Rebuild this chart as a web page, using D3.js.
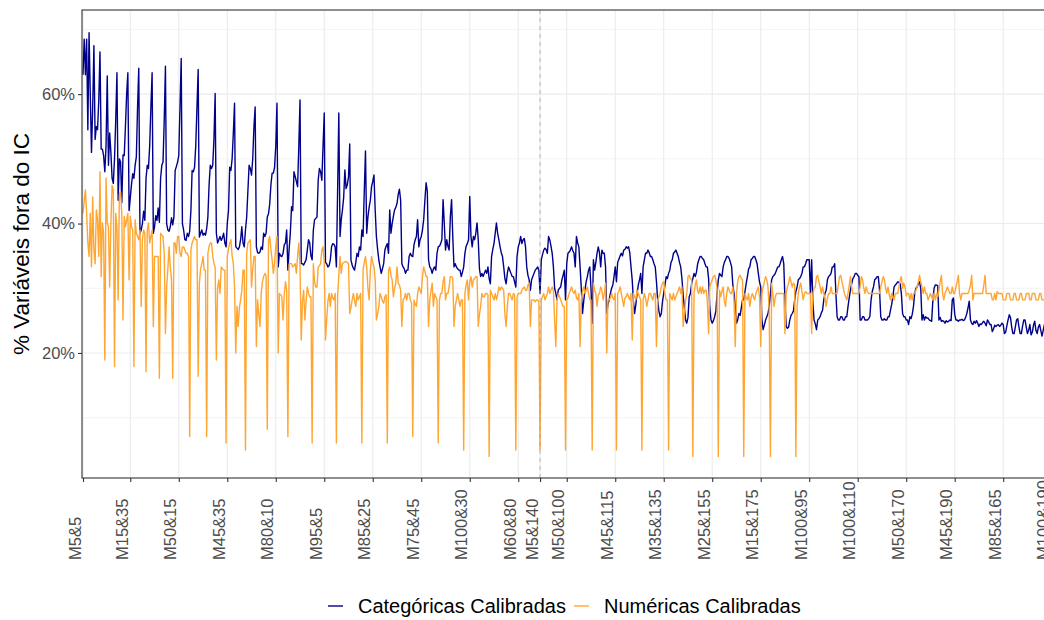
<!DOCTYPE html>
<meta charset="utf-8">
<script src="https://d3js.org/d3.v7.min.js"></script>
<style>
  body { margin: 0; background: #ffffff; }
  text { font-family: "Liberation Sans", Arial, sans-serif; }
</style>
<body>
<div id="my_dataviz"></div>
<script>

// % of variables outside the IC, one value per scenario (800 scenarios)
var categoricas = [
  63, 68.5, 63, 68.5, 54.5, 69.5, 60, 51, 58, 67.5, 53, 55, 54.5, 59, 66.5, 51.5, 51.5, 50.5, 48, 52,
  62.8, 49, 54, 51, 47, 46.2, 50, 56, 63.3, 43.6, 50, 49.5, 43.2, 50.6, 50.5, 55, 60, 63.3, 42, 44,
  46, 47.7, 47, 49, 50.3, 58, 64, 38.5, 39, 40, 41.9, 40.5, 47, 49, 48.5, 52, 58, 63.3, 38.5, 39.5,
  41.2, 40.5, 42.4, 40.2, 47, 49, 49.5, 56, 64.3, 40, 39, 38.8, 39.5, 40.9, 39.8, 41, 48.2, 48.8, 49.5, 50.5,
  58, 65.5, 40, 39, 37.5, 37.4, 38.5, 38, 38.8, 42, 48.2, 48, 48.7, 52, 58, 63.8, 37.9, 38.5, 39, 38.2,
  38.5, 38.2, 39.2, 41, 46, 49, 48.5, 49, 53, 60.1, 38.5, 37, 37.5, 38, 37.4, 37.8, 38.5, 37, 36.4, 40,
  42, 48.7, 48.2, 50, 54, 58.6, 36.4, 36.2, 36, 36.4, 37.5, 39.5, 37, 36.4, 39, 41, 45, 49, 48.5, 47.5,
  50, 55, 58, 36.4, 35.5, 35.4, 35.6, 36.4, 36, 38.5, 38, 38.5, 41, 41.5, 43, 46, 47.8, 47.8, 48.7, 52,
  58.6, 33.3, 35.4, 35, 34.9, 35.4, 36.7, 37, 39, 32.8, 36, 38.5, 42.6, 42, 48, 47.3, 46.5, 45.7, 52, 59.1,
  33.8, 33.8, 33.6, 34, 34.4, 35.9, 37.5, 37, 35, 34.4, 39, 40.6, 40.8, 41, 46.7, 48.5, 48, 46.7, 52, 57.1,
  34, 33.8, 33.3, 33.5, 34.4, 36.4, 36.9, 36.8, 36.4, 33.3, 45, 57.1, 38, 40.6, 42.1, 44, 48.3, 45.4, 46, 47.2,
  52.3, 34.4, 33.6, 33.1, 32.8, 34, 35.4, 34.9, 36.4, 35.9, 39, 38, 45, 51.2, 38.5, 41, 42.5, 43.6, 45.7, 46.5,
  47.5, 42.1, 38, 36, 34.4, 33.3, 32.3, 33, 33.8, 35.9, 36.5, 36.9, 35.4, 42.1, 38.5, 40, 41.1, 42.1, 42.5, 43.1,
  44.5, 45.3, 43.6, 33.8, 33.3, 33, 32.3, 32.8, 32.8, 34.9, 35.4, 35, 34.9, 36.7, 37.5, 38, 40.6, 36.4, 37.5, 38,
  39, 40.6, 43.6, 46.3, 45, 34.4, 33.3, 33, 32.3, 33, 33.3, 32.8, 35.4, 36.4, 36.5, 36.9, 37.5, 43.7, 40, 35.9,
  37.5, 36.5, 35.9, 41.1, 43.7, 38, 33.3, 33.8, 33.3, 33, 32.8, 32.8, 31.8, 32.5, 33.3, 35.4, 36.5, 36.9, 37.5, 44.2,
  38, 36.4, 38, 37.5, 38.5, 40.1, 37.5, 33, 31.8, 32.3, 31.8, 32.3, 32.8, 32.3, 33.3, 31.5, 30.7, 34.9, 36, 36.9,
  38.5, 40.1, 38.5, 37.5, 36.4, 35.5, 34.9, 33.3, 31.5, 30.7, 32.3, 33.3, 32.8, 32.3, 31.8, 31.8, 31, 30.2, 34.9, 36.4,
  37, 38, 36.9, 37.5, 37.7, 36.4, 33.3, 32, 31.3, 29.7, 31.3, 31.8, 32.3, 32.8, 33, 33.3, 32.8, 29.2, 34.4, 35.2,
  35.9, 36.2, 36, 35.4, 38, 37.5, 36.5, 35.4, 33.3, 30, 29.2, 28.2, 29.7, 30, 30.2, 31.3, 32, 32.8, 28.2, 33.8,
  35.4, 35.6, 35.9, 36.4, 35.8, 35.4, 33.3, 38, 37, 36.4, 33.3, 30, 26.1, 28, 29.7, 31, 31.8, 32.8, 33.3, 30,
  24.6, 34.4, 32.8, 34, 35.4, 36.4, 35.5, 33.3, 35.9, 35.4, 35.4, 33.3, 26.1, 27.5, 28.2, 29.2, 30, 30.5, 31.8, 33.3,
  31, 34, 34.5, 35, 35.4, 35, 35.9, 36, 36.4, 36.2, 36.4, 35.5, 33.3, 31.3, 28, 26.1, 27.5, 29.2, 30.5, 31.3,
  32.3, 29.2, 33.3, 34.4, 35.4, 35.4, 35.9, 35.5, 34.9, 34.9, 34.4, 33.8, 33.3, 31, 28.2, 26.5, 25.6, 26.1, 28, 29.2,
  30.5, 31.8, 31.5, 32.3, 32.8, 34, 34.4, 35.4, 35.6, 35.9, 35.4, 34.9, 34, 33.3, 31.5, 29, 27, 25.1, 24.6, 25.5,
  28.7, 29.2, 30.7, 31.5, 32.3, 31.8, 32.5, 33.8, 34.4, 34.9, 34.9, 34.6, 34.4, 33.8, 33.3, 33.3, 31.5, 27, 25.1, 24.6,
  25, 25.6, 26.5, 29.2, 31.3, 32.3, 32, 31.8, 33.3, 34, 34.4, 34.9, 34.9, 34.6, 34, 33.3, 30.5, 29.2, 27.2, 24.6,
  25.1, 26.1, 25.8, 27, 28.2, 28.2, 29.5, 30.7, 31.8, 33, 33.3, 34.4, 34.6, 34.9, 34.9, 34.4, 33.8, 32.3, 31, 30.2,
  25.1, 23.6, 24.3, 25.1, 25.6, 26.1, 27.2, 29.2, 31.3, 31.8, 32, 32.3, 32.8, 33.3, 33.3, 33.8, 34.4, 34.9, 33.8, 28.2,
  24.1, 23.8, 24, 25.1, 25.8, 26.1, 26.5, 28.2, 29.5, 30.2, 31.3, 31.5, 31.8, 32.3, 33.3, 33.3, 33.8, 34.4, 34.4, 34.4,
  29.2, 34.4, 28, 25.1, 24.5, 23.6, 25.1, 25.3, 25.6, 26.2, 26.6, 28.2, 29.2, 29.7, 31.3, 31.8, 32, 32.3, 33.3, 33.3,
  33.8, 29.2, 25.6, 25.1, 25.1, 25.6, 25.6, 25.1, 25.1, 25.6, 25.6, 27.2, 28.5, 29.7, 30.7, 31.5, 31.8, 32.3, 32.3, 32,
  31.8, 25.1, 25.1, 25.6, 25.6, 25.1, 25.1, 25.1, 25.3, 25.6, 28.2, 29.5, 30.2, 31.3, 31.5, 31.8, 31.8, 29.7, 25.6, 25.1,
  25.1, 25.3, 25.1, 25.1, 25.6, 25.6, 26.6, 27.5, 28.7, 30.2, 30.5, 30.7, 31, 30.9, 30.7, 29.2, 26.1, 25.6, 25.6, 25.1,
  25.1, 24.4, 25.6, 25.3, 26, 27.2, 29.2, 30, 30.2, 30.7, 31, 30, 25.1, 25.9, 25.1, 25.6, 25.4, 25.4, 25.1, 25,
  24.9, 28.2, 30, 30.5, 30.5, 30.4, 25.1, 25.5, 24.9, 25, 24.9, 24.6, 25, 24.8, 24.9, 25.1, 25, 28.2, 28.5, 26,
  25.1, 25.1, 24.9, 25.1, 25.1, 25.2, 25, 25.1, 25.5, 26.1, 27, 28, 25.1, 24.6, 24.4, 24.9, 24.6, 25, 24.6, 24.1,
  24.5, 24.4, 24.7, 24.9, 24.6, 24.2, 25.1, 24.8, 24.4, 24.4, 23.3, 23.7, 24.3, 24.1, 24.3, 24.4, 24.1, 24.3, 24.6, 24.4,
  23, 23.2, 24.2, 25.1, 25.9, 25.5, 24, 23, 23, 24, 25.1, 25.3, 24, 23, 23, 24.2, 25.1, 25.1, 24, 23,
  23.5, 24.4, 22.8, 23.2, 24.3, 24.9, 23.5, 23, 24, 24.4, 23.5, 22.6, 23.5, 24.4, 23, 22.6, 23.8, 24.4, 23, 22.8
];

var numericas = [
  41.6, 43.5, 45.2, 41.6, 37, 34.9, 41.6, 33.3, 44.1, 36, 33.8, 42.1, 40.6, 34.9, 48, 31.8, 40.1, 38.5, 18.9, 47,
  40.1, 39.5, 30.2, 40, 45.9, 45.2, 17.9, 41.6, 39.5, 28.2, 44.6, 44.9, 41.6, 25.1, 41.1, 39.5, 40.6, 41.6, 31.3, 41.1,
  39.5, 39, 17.9, 40.6, 38.5, 38, 37.5, 39, 27.2, 37.5, 39, 38.5, 17.1, 39, 40.1, 37, 38, 39, 24.1, 34.9,
  34.9, 34.9, 34.9, 16.1, 38.5, 38.2, 38, 35.4, 23, 30.2, 33, 36.4, 33.3, 31.3, 16.1, 37, 37, 35.4, 38, 38,
  35.4, 34.9, 36.4, 36.4, 35.9, 35.4, 35.4, 34.9, 7.1, 35.9, 37, 37.5, 38, 37.5, 37.5, 16.4, 30.8, 33, 33.8, 34.9,
  32.8, 32.8, 7.1, 35.4, 36.5, 37, 37, 35, 33.8, 33.3, 18.9, 30, 31.3, 29.2, 33.3, 33, 32.8, 32.8, 6.1, 34.9,
  36, 37, 37.5, 35, 33.8, 30.2, 20, 27.2, 24.1, 27, 28.2, 29.7, 32.8, 32.8, 5, 35.4, 37, 37.2, 37.5, 30.2,
  33, 34.9, 34.9, 21, 28.2, 26, 24.1, 29.2, 31, 31.8, 32.3, 32, 8.2, 37.5, 38, 36, 34.4, 32.3, 34, 36.4,
  38, 20, 29.2, 29, 28.7, 25.1, 29, 31, 29.7, 7.1, 33.8, 33.8, 33.8, 33.3, 33.5, 33.8, 32.3, 35, 37, 33.3,
  22, 28, 29.7, 25.1, 28, 30.2, 29.2, 28.7, 28.7, 6.1, 33.8, 31, 30.2, 30.2, 33.3, 33.5, 33.8, 35.9, 36.4, 34,
  22, 25.1, 28, 29.2, 27.2, 29.2, 28.5, 28.2, 29.2, 6.1, 28.7, 32, 34.9, 32.3, 33.8, 34, 34.1, 34.1, 34, 33.8,
  26.1, 27, 28.2, 29.2, 28, 27.2, 29.2, 28.2, 28.7, 29.2, 6.1, 32.8, 34, 34.9, 33.3, 30, 28.2, 32.8, 34.9, 34,
  33.3, 31.3, 25.1, 26, 27.2, 29.2, 28.7, 28, 27.7, 28.7, 29, 6.1, 32.8, 33.3, 32, 31.3, 28.7, 30, 30.8, 33.3,
  30.8, 30.5, 29.7, 24.1, 28.2, 28.5, 29.2, 28.2, 29.2, 29.2, 28.2, 27.7, 7.1, 28.2, 27.5, 27.2, 29.2, 30.2, 29.7, 29.2,
  31.8, 33.3, 32.6, 31.8, 31.8, 24.1, 28.2, 29.5, 30.8, 27.2, 29.2, 28.7, 28.2, 6.1, 28.2, 29.2, 29.2, 31, 31.8, 28.2,
  29.2, 29.2, 30.2, 31.8, 31.8, 31.5, 24.1, 27.2, 28.2, 29.2, 28.2, 27.2, 28.2, 28.2, 5, 29.2, 30.5, 31.3, 28.2, 31,
  31.8, 30.2, 31.3, 31.5, 31.8, 31.8, 24.1, 26, 27.2, 29.2, 28.7, 28.7, 29.2, 29.2, 29, 4, 29.7, 29.2, 28.7, 28.2,
  29.2, 28.2, 29, 30.2, 29.7, 30.2, 30, 29.7, 26, 24.1, 27.2, 29.2, 29.2, 28.7, 28.2, 29.2, 29, 5, 28.7, 29.2,
  29.2, 29.2, 29.7, 30, 30.2, 29.7, 29.7, 30.5, 30.8, 24.1, 28.2, 28.2, 28.2, 27.9, 28.2, 28.2, 27.9, 5, 28.2, 28.7,
  29.2, 28.2, 28.7, 29.2, 30.2, 29.2, 29.7, 30.2, 29.7, 25, 21, 28.2, 29.2, 28.7, 28.2, 27.7, 27.2, 27.2, 5, 28.2,
  28.5, 29.2, 29.7, 30.2, 29.5, 29.2, 29.7, 28.5, 28.2, 29.2, 21, 28.2, 29.5, 30.2, 29.2, 29.7, 30.2, 29.2, 28.2, 28.2,
  5, 30.8, 29.7, 29.2, 27.2, 29, 29.2, 30.2, 29.7, 28.2, 29.2, 30.8, 20, 28.2, 28.2, 28.5, 29.2, 28.5, 28.2, 29.2,
  5, 29.2, 29.5, 30.2, 29.2, 28.2, 27.2, 28.5, 28.7, 29.2, 28.7, 28.2, 29.2, 22, 29.2, 28.7, 28.2, 29.7, 29.2, 28.7,
  28.2, 5, 28.2, 29.2, 28.5, 27.2, 28.2, 29.2, 29.2, 28.7, 28.2, 29.2, 29.2, 21, 28.2, 28.7, 29.2, 30.2, 30.8, 31,
  29.2, 28.2, 28.2, 5, 29.2, 28.7, 28.2, 29.2, 28.2, 28.7, 29.2, 29.7, 30.2, 29.2, 30.2, 24.1, 26.1, 28, 29.2, 31.8,
  32, 31.5, 31.3, 4, 29.2, 30.5, 31.3, 29.5, 29.2, 30.2, 29.2, 30.2, 29.2, 29.7, 29.7, 28, 23, 30.2, 30.8, 31.3,
  31.8, 32, 31.3, 30, 4, 29.7, 28.7, 29.5, 30.2, 28, 27.2, 29.2, 30.2, 29.7, 29.2, 29.2, 30.2, 28, 21, 29.2,
  31, 31.8, 32, 31.5, 31.3, 4, 29.2, 28.5, 28.2, 29.2, 27.2, 28.5, 29.2, 28.7, 28.2, 29.2, 29.7, 30.2, 28.7, 21,
  29.2, 30.2, 31, 31.8, 31.3, 30.2, 26.6, 4, 30.8, 29, 27.2, 28.7, 29.2, 29.2, 29.2, 29.2, 29.2, 29.2, 29.2, 23,
  29.2, 30.2, 30.8, 31.8, 31, 30.2, 30.8, 30.5, 4, 27.2, 29.2, 30.2, 30.8, 29.5, 28.2, 29.2, 29.5, 29.2, 29.2, 29.2,
  29.2, 23, 29.2, 30, 30.2, 31.8, 32, 31, 30.2, 29.2, 30.2, 29.2, 28.5, 27.2, 28.5, 29.2, 29.2, 30.2, 29.2, 29.2,
  29.2, 29.2, 29.2, 30.5, 31.8, 32, 31, 30.2, 29.2, 28.7, 28.2, 29.2, 30.5, 31.8, 30.2, 29.2, 29.2, 29.2, 29.2, 29.2,
  29.2, 30.2, 31.8, 31.3, 30, 29.2, 30.2, 29.5, 29.2, 29.2, 29.2, 29.2, 29.2, 29.2, 29.2, 29.2, 29.2, 29.2, 30.2, 31,
  31.8, 31.3, 30, 29.2, 30.2, 29, 28.2, 29.2, 28.5, 28.2, 29.2, 29.2, 29.2, 30.2, 31.3, 31.8, 30, 30.8, 30.2, 28.8,
  29.2, 29.2, 28.2, 29.2, 28.2, 29.2, 29.2, 29.7, 30.2, 31, 32, 31, 30.2, 29.2, 30.2, 29.2, 29.2, 28.2, 28.7, 29.2,
  28.7, 28.2, 29.2, 28.2, 29.2, 28.7, 29.7, 31, 32, 29.2, 28.2, 29.2, 29.7, 30.2, 29.7, 29.2, 29.2, 30.2, 29.2, 29.2,
  30.2, 31, 32, 29.2, 28.2, 29.2, 29.2, 29.2, 29.2, 29.2, 29.2, 29.7, 30.5, 32, 28.2, 29.2, 29.2, 29.2, 29.2, 29.2,
  29.2, 29.2, 29.2, 30.5, 32, 29.2, 29.2, 29.2, 29.2, 29.2, 28.2, 28.2, 29.2, 28.2, 29.5, 29.2, 29.2, 29.2, 29.2, 28.2,
  28.2, 28.2, 29.2, 29.2, 29.2, 28.2, 28.2, 28.2, 29.2, 29.2, 28.2, 28.2, 28.2, 29.2, 29.2, 28.2, 28.2, 28.2, 29.2, 29.2,
  29.2, 28.2, 28.2, 29.2, 29.2, 29.2, 28.2, 28.2, 28.2, 29.2, 29.2, 28.2, 28.2, 28.2, 29.2, 29.2, 28.2, 28.2, 29.2, 29.2
];

// x axis breaks (position in the scenario list) and their labels
var tickIndex = [0, 39, 79, 119, 159, 199, 239, 279, 319, 359, 377, 399, 439, 479, 519, 559, 599, 639, 679, 719, 759, 799];
var tickLabels = ["M5&5", "M15&35", "M50&15", "M45&35", "M80&10", "M95&5", "M85&25", "M75&45", "M100&30", "M60&80",
  "M5&140", "M50&100", "M45&115", "M35&135", "M25&155", "M15&175", "M100&95", "M100&110", "M50&170", "M45&190",
  "M85&165", "M100&190"];
var dashedAt = 377;   // M5&140
var yTicks = [20, 40, 60];
var yMinor = [10, 30, 50, 70];
var seriesNames = ["Categóricas Calibradas", "Numéricas Calibradas"];
var colors = ["#00008b", "#ffa632"];

// panel geometry (the right edge runs past the 1044px window, as in the original)
var W = 1044, H = 620;
var panel = {left: 82, top: 10, right: 1053, bottom: 478};

var svg = d3.select("#my_dataviz")
  .append("svg")
    .attr("width", W)
    .attr("height", H)
    .style("display", "block");

svg.append("rect").attr("width", W).attr("height", H).attr("fill", "#ffffff");

var x = d3.scaleLinear()
  .domain([0, 799])
  .range([83, 1051.7]);

var y = d3.scaleLinear()
  .domain([0.68, 73.0])
  .range([panel.bottom, panel.top]);

// grid
var grid = svg.append("g");
grid.selectAll(".minor")
  .data(yMinor)
  .enter().append("line")
    .attr("x1", panel.left).attr("x2", panel.right)
    .attr("y1", function(d) { return y(d); })
    .attr("y2", function(d) { return y(d); })
    .attr("stroke", "#ebebeb")
    .attr("stroke-width", 0.6);
grid.selectAll(".major")
  .data(yTicks)
  .enter().append("line")
    .attr("x1", panel.left).attr("x2", panel.right)
    .attr("y1", function(d) { return y(d); })
    .attr("y2", function(d) { return y(d); })
    .attr("stroke", "#ebebeb")
    .attr("stroke-width", 1.1);
grid.selectAll(".vert")
  .data(tickIndex)
  .enter().append("line")
    .attr("x1", function(d) { return x(d); })
    .attr("x2", function(d) { return x(d); })
    .attr("y1", panel.top).attr("y2", panel.bottom)
    .attr("stroke", "#ebebeb")
    .attr("stroke-width", 1.1);

// lines
svg.append("clipPath").attr("id", "clip")
  .append("rect")
    .attr("x", panel.left).attr("y", panel.top)
    .attr("width", panel.right - panel.left)
    .attr("height", panel.bottom - panel.top);

var line = d3.line()
  .x(function(d, i) { return x(i); })
  .y(function(d) { return y(d); });

[categoricas, numericas].forEach(function(s, k) {
  svg.append("path")
    .datum(s)
    .attr("clip-path", "url(#clip)")
    .attr("fill", "none")
    .attr("stroke", colors[k])
    .attr("stroke-width", 1.4)
    .attr("stroke-linejoin", "round")
    .attr("d", line);
});

// dashed marker
svg.append("line")
  .attr("x1", x(dashedAt)).attr("x2", x(dashedAt))
  .attr("y1", panel.top).attr("y2", panel.bottom)
  .attr("stroke", "#a0a0a0")
  .attr("stroke-opacity", 0.7)
  .attr("stroke-width", 1.1)
  .attr("stroke-dasharray", "4,4");

// panel border
svg.append("rect")
  .attr("x", panel.left).attr("y", panel.top)
  .attr("width", panel.right - panel.left)
  .attr("height", panel.bottom - panel.top)
  .attr("fill", "none")
  .attr("stroke", "#333333")
  .attr("stroke-width", 1.1);

// x axis
var xAxis = svg.append("g")
  .attr("transform", "translate(0," + panel.bottom + ")")
  .call(d3.axisBottom(x)
    .tickValues(tickIndex)
    .tickFormat(function(d, i) { return tickLabels[i]; })
    .tickSize(4));
xAxis.select(".domain").remove();
xAxis.selectAll(".tick line").attr("stroke", "#333333").attr("stroke-width", 1.1);
xAxis.selectAll(".tick text")
  .attr("y", null).attr("dy", null)
  .attr("transform", "translate(-3,82) rotate(-90)")
  .attr("text-anchor", "start")
  .style("font-size", "16.5px")
  .style("fill", "#4d4d4d");

// y axis
var yAxis = svg.append("g")
  .attr("transform", "translate(" + panel.left + ",0)")
  .call(d3.axisLeft(y)
    .tickValues(yTicks)
    .tickFormat(function(d) { return d + "%"; })
    .tickSize(4)
    .tickPadding(3));
yAxis.select(".domain").remove();
yAxis.selectAll(".tick line").attr("stroke", "#333333").attr("stroke-width", 1.1);
yAxis.selectAll(".tick text")
  .style("font-size", "16.5px")
  .style("fill", "#4d4d4d");

// y title
svg.append("text")
  .attr("transform", "translate(29," + ((panel.top + panel.bottom) / 2) + ") rotate(-90)")
  .attr("text-anchor", "middle")
  .style("font-size", "22.5px")
  .style("fill", "#000000")
  .text("% Variáveis fora do IC");

// legend
var legendX = [328, 574];
var legend = svg.selectAll(".legend")
  .data(seriesNames)
  .enter().append("g")
    .attr("transform", function(d, i) { return "translate(" + legendX[i] + ",606)"; });
legend.append("line")
  .attr("x1", 0).attr("x2", 15)
  .attr("stroke", function(d, i) { return colors[i]; })
  .attr("stroke-width", 1.4);
legend.append("text")
  .attr("x", 30)
  .attr("dy", "0.35em")
  .style("font-size", "20px")
  .style("fill", "#000000")
  .text(function(d) { return d; });

</script>
</body>
